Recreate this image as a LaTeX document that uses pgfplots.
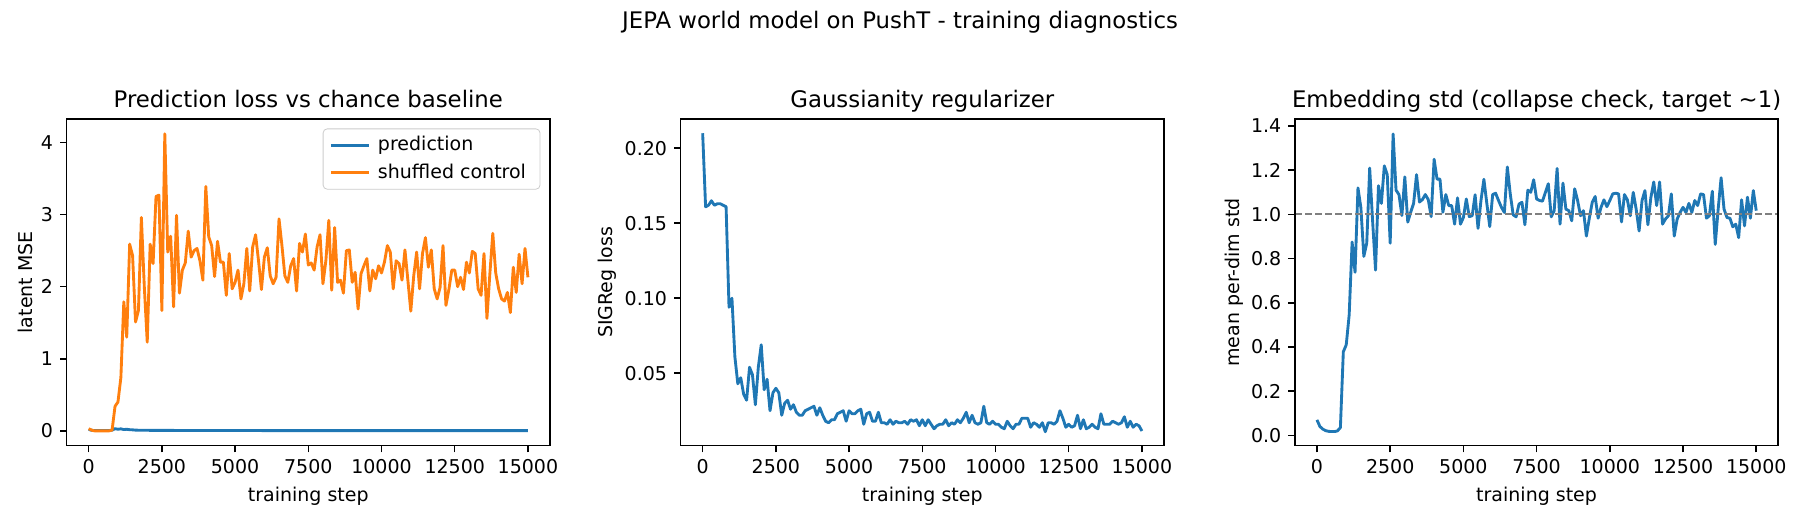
\documentclass[border=0pt]{standalone}
\usepackage{fontspec}
\setmainfont{DejaVu Sans}
\usepackage{pgfplots}
\usepackage{pgfplotstable}
\pgfplotsset{compat=1.18}

\definecolor{C0}{HTML}{1F77B4}
\definecolor{C1}{HTML}{FF7F0E}
\definecolor{refgray}{HTML}{808080}

\newcommand\tickfont{\fontsize{9.5}{11.4}\selectfont}
\newcommand\titlefont{\fontsize{11.4}{13.7}\selectfont}

% prediction loss / shuffled control
\pgfplotstableread[row sep=\\]{
step pred shuf \\
0 0.020 0.03 \\ 100 0.008 0.01 \\ 200 0.004 0.00 \\ 300 0.004 0.00 \\ 400 0.004 0.00 \\
500 0.004 0.00 \\ 600 0.004 0.00 \\ 700 0.004 0.00 \\ 800 0.010 0.01 \\ 900 0.030 0.34 \\
1000 0.022 0.40 \\ 1100 0.028 0.74 \\ 1200 0.018 1.79 \\ 1300 0.022 1.30 \\ 1400 0.016 2.59 \\
1500 0.014 2.43 \\ 1600 0.010 1.51 \\ 1700 0.009 1.67 \\ 1800 0.008 2.96 \\ 1900 0.008 2.00 \\
2000 0.008 1.23 \\ 2100 0.007 2.59 \\ 2200 0.007 2.32 \\ 2300 0.007 3.25 \\ 2400 0.006 3.27 \\
2500 0.006 1.67 \\ 2600 0.006 4.12 \\ 2700 0.006 2.48 \\ 2800 0.006 2.70 \\ 2900 0.006 1.72 \\
3000 0.005 2.99 \\ 3100 0.005 1.91 \\ 3200 0.005 2.23 \\ 3300 0.005 2.33 \\ 3400 0.005 2.77 \\
3500 0.005 2.41 \\ 3600 0.005 2.50 \\ 3700 0.005 2.53 \\ 3800 0.005 2.36 \\ 3900 0.005 2.09 \\
4000 0.005 3.39 \\ 4100 0.005 2.69 \\ 4200 0.004 2.57 \\ 4300 0.004 2.14 \\ 4400 0.004 2.63 \\
4500 0.004 2.34 \\ 4600 0.004 2.34 \\ 4700 0.004 1.88 \\ 4800 0.004 2.46 \\ 4900 0.004 1.97 \\
5000 0.004 2.06 \\ 5100 0.004 2.23 \\ 5200 0.004 1.83 \\ 5300 0.004 2.04 \\ 5400 0.004 2.53 \\
5500 0.004 1.94 \\ 5600 0.004 2.55 \\ 5700 0.004 2.72 \\ 5800 0.004 2.36 \\ 5900 0.004 1.96 \\
6000 0.003 2.41 \\ 6100 0.003 2.54 \\ 6200 0.003 2.15 \\ 6300 0.003 2.04 \\ 6400 0.003 2.13 \\
6500 0.003 2.94 \\ 6600 0.003 2.57 \\ 6700 0.003 2.15 \\ 6800 0.003 2.06 \\ 6900 0.003 2.29 \\
7000 0.003 2.39 \\ 7100 0.003 1.94 \\ 7200 0.003 2.60 \\ 7300 0.003 2.48 \\ 7400 0.003 2.73 \\
7500 0.003 2.30 \\ 7600 0.003 2.33 \\ 7700 0.003 2.23 \\ 7800 0.003 2.55 \\ 7900 0.003 2.72 \\
8000 0.003 2.04 \\ 8100 0.003 2.36 \\ 8200 0.003 2.92 \\ 8300 0.003 1.95 \\ 8400 0.003 2.82 \\
8500 0.003 2.06 \\ 8600 0.003 2.09 \\ 8700 0.003 1.91 \\ 8800 0.003 2.50 \\ 8900 0.003 2.51 \\
9000 0.003 2.06 \\ 9100 0.003 2.20 \\ 9200 0.003 1.69 \\ 9300 0.003 2.18 \\ 9400 0.003 2.29 \\
9500 0.003 2.39 \\ 9600 0.003 1.94 \\ 9700 0.003 2.23 \\ 9800 0.003 2.11 \\ 9900 0.003 2.29 \\
10000 0.003 2.19 \\ 10100 0.003 2.34 \\ 10200 0.003 2.57 \\ 10300 0.003 2.48 \\ 10400 0.003 1.97 \\
10500 0.003 2.36 \\ 10600 0.003 2.32 \\ 10700 0.003 2.09 \\ 10800 0.003 2.51 \\ 10900 0.003 2.09 \\
11000 0.003 1.66 \\ 11100 0.003 2.15 \\ 11200 0.003 2.48 \\ 11300 0.003 1.97 \\ 11400 0.003 2.46 \\
11500 0.003 2.68 \\ 11600 0.003 2.27 \\ 11700 0.003 2.51 \\ 11800 0.003 1.97 \\ 11900 0.003 1.83 \\
12000 0.003 1.99 \\ 12100 0.003 2.57 \\ 12200 0.003 1.74 \\ 12300 0.003 1.96 \\ 12400 0.003 2.23 \\
12500 0.003 2.23 \\ 12600 0.003 2.00 \\ 12700 0.003 2.13 \\ 12800 0.003 1.96 \\ 12900 0.003 2.34 \\
13000 0.003 2.19 \\ 13100 0.003 2.49 \\ 13200 0.003 2.46 \\ 13300 0.003 1.97 \\ 13400 0.003 1.88 \\
13500 0.003 2.46 \\ 13600 0.003 1.56 \\ 13700 0.003 2.18 \\ 13800 0.003 2.74 \\ 13900 0.003 2.19 \\
14000 0.003 1.97 \\ 14100 0.003 1.83 \\ 14200 0.003 1.80 \\ 14300 0.003 1.92 \\ 14400 0.003 1.64 \\
14500 0.003 2.27 \\ 14600 0.003 1.92 \\ 14700 0.003 2.45 \\ 14800 0.003 2.04 \\ 14900 0.003 2.53 \\
15000 0.003 2.13 \\
}\losstable

% SIGReg loss
\pgfplotstableread[row sep=\\]{
step sig \\
0 0.210 \\ 100 0.161 \\ 200 0.162 \\ 300 0.165 \\ 400 0.162 \\ 500 0.163 \\ 600 0.163 \\ 700 0.162 \\
800 0.161 \\ 900 0.094 \\ 1000 0.100 \\ 1100 0.061 \\ 1200 0.043 \\ 1300 0.047 \\ 1400 0.036 \\
1500 0.032 \\ 1600 0.054 \\ 1700 0.049 \\ 1800 0.029 \\ 1900 0.054 \\ 2000 0.069 \\ 2100 0.039 \\
2200 0.046 \\ 2300 0.025 \\ 2400 0.037 \\ 2500 0.040 \\ 2600 0.037 \\ 2700 0.022 \\ 2800 0.030 \\
2900 0.032 \\ 3000 0.026 \\ 3100 0.029 \\ 3200 0.024 \\ 3300 0.022 \\ 3400 0.022 \\ 3500 0.025 \\
3600 0.026 \\ 3700 0.027 \\ 3800 0.028 \\ 3900 0.022 \\ 4000 0.027 \\ 4100 0.022 \\ 4200 0.018 \\
4300 0.017 \\ 4400 0.019 \\ 4500 0.019 \\ 4600 0.023 \\ 4700 0.024 \\ 4800 0.025 \\ 4900 0.018 \\
5000 0.025 \\ 5100 0.023 \\ 5200 0.023 \\ 5300 0.025 \\ 5400 0.026 \\ 5500 0.016 \\ 5600 0.023 \\
5700 0.024 \\ 5800 0.018 \\ 5900 0.018 \\ 6000 0.024 \\ 6100 0.017 \\ 6200 0.017 \\ 6300 0.016 \\
6400 0.019 \\ 6500 0.016 \\ 6600 0.018 \\ 6700 0.017 \\ 6800 0.017 \\ 6900 0.018 \\ 7000 0.016 \\
7100 0.019 \\ 7200 0.018 \\ 7300 0.019 \\ 7400 0.015 \\ 7500 0.019 \\ 7600 0.015 \\ 7700 0.019 \\
7800 0.016 \\ 7900 0.013 \\ 8000 0.015 \\ 8100 0.016 \\ 8200 0.016 \\ 8300 0.019 \\ 8400 0.015 \\
8500 0.017 \\ 8600 0.016 \\ 8700 0.019 \\ 8800 0.017 \\ 8900 0.020 \\ 9000 0.024 \\ 9100 0.017 \\
9200 0.022 \\ 9300 0.017 \\ 9400 0.016 \\ 9500 0.017 \\ 9600 0.028 \\ 9700 0.017 \\ 9800 0.016 \\
9900 0.018 \\ 10000 0.016 \\ 10100 0.016 \\ 10200 0.014 \\ 10300 0.013 \\ 10400 0.018 \\ 10500 0.015 \\
10600 0.013 \\ 10700 0.016 \\ 10800 0.016 \\ 10900 0.020 \\ 11000 0.020 \\ 11100 0.020 \\ 11200 0.014 \\
11300 0.017 \\ 11400 0.016 \\ 11500 0.014 \\ 11600 0.017 \\ 11700 0.011 \\ 11800 0.017 \\ 11900 0.017 \\
12000 0.016 \\ 12100 0.018 \\ 12200 0.025 \\ 12300 0.020 \\ 12400 0.014 \\ 12500 0.016 \\ 12600 0.014 \\
12700 0.015 \\ 12800 0.022 \\ 12900 0.013 \\ 13000 0.019 \\ 13100 0.013 \\ 13200 0.014 \\ 13300 0.016 \\
13400 0.014 \\ 13500 0.013 \\ 13600 0.023 \\ 13700 0.016 \\ 13800 0.016 \\ 13900 0.016 \\ 14000 0.018 \\
14100 0.017 \\ 14200 0.016 \\ 14300 0.017 \\ 14400 0.021 \\ 14500 0.014 \\ 14600 0.018 \\ 14700 0.014 \\
14800 0.016 \\ 14900 0.015 \\ 15000 0.0115 \\
}\sigtable

% mean per-dim embedding std
\pgfplotstableread[row sep=\\]{
step std \\
0 0.070 \\ 100 0.040 \\ 200 0.028 \\ 300 0.021 \\ 400 0.018 \\ 500 0.017 \\ 600 0.017 \\ 700 0.020 \\
800 0.035 \\ 900 0.378 \\ 1000 0.410 \\ 1100 0.545 \\ 1200 0.875 \\ 1300 0.738 \\ 1400 1.120 \\
1500 1.030 \\ 1600 0.810 \\ 1700 0.870 \\ 1800 1.210 \\ 1900 0.970 \\ 2000 0.748 \\ 2100 1.130 \\
2200 1.050 \\ 2300 1.220 \\ 2400 1.180 \\ 2500 0.870 \\ 2600 1.364 \\ 2700 1.110 \\ 2800 1.090 \\
2900 0.995 \\ 3000 1.170 \\ 3100 0.965 \\ 3200 1.010 \\ 3300 1.050 \\ 3400 1.180 \\ 3500 1.056 \\
3600 1.067 \\ 3700 1.090 \\ 3800 1.067 \\ 3900 0.990 \\ 4000 1.250 \\ 4100 1.160 \\ 4200 1.160 \\
4300 1.010 \\ 4400 1.090 \\ 4500 1.040 \\ 4600 1.040 \\ 4700 0.956 \\ 4800 1.075 \\ 4900 0.956 \\
5000 0.986 \\ 5100 1.070 \\ 5200 0.990 \\ 5300 0.994 \\ 5400 1.089 \\ 5500 0.937 \\ 5600 1.063 \\
5700 1.159 \\ 5800 1.050 \\ 5900 0.945 \\ 6000 1.090 \\ 6100 1.096 \\ 6200 1.063 \\ 6300 1.032 \\
6400 1.009 \\ 6500 1.215 \\ 6600 1.093 \\ 6700 0.998 \\ 6800 0.989 \\ 6900 1.047 \\ 7000 1.055 \\
7100 0.953 \\ 7200 1.110 \\ 7300 1.100 \\ 7400 1.157 \\ 7500 1.070 \\ 7600 1.063 \\ 7700 1.060 \\
7800 1.100 \\ 7900 1.139 \\ 8000 0.989 \\ 8100 1.017 \\ 8200 1.208 \\ 8300 0.956 \\ 8400 1.142 \\
8500 1.024 \\ 8600 1.017 \\ 8700 0.971 \\ 8800 1.116 \\ 8900 1.063 \\ 9000 0.994 \\ 9100 1.017 \\
9200 0.902 \\ 9300 0.983 \\ 9400 1.055 \\ 9500 1.081 \\ 9600 0.983 \\ 9700 1.032 \\ 9800 1.066 \\
9900 1.035 \\ 10000 1.063 \\ 10100 1.093 \\ 10200 1.096 \\ 10300 1.093 \\ 10400 0.966 \\ 10500 1.090 \\
10600 1.066 \\ 10700 0.994 \\ 10800 1.100 \\ 10900 1.024 \\ 11000 0.925 \\ 11100 1.063 \\ 11200 1.108 \\
11300 0.953 \\ 11400 1.075 \\ 11500 1.147 \\ 11600 1.040 \\ 11700 1.147 \\ 11800 0.956 \\ 11900 0.979 \\
12000 0.994 \\ 12100 1.093 \\ 12200 0.902 \\ 12300 0.979 \\ 12400 1.009 \\ 12500 1.032 \\ 12600 1.009 \\
12700 1.050 \\ 12800 1.009 \\ 12900 1.063 \\ 13000 1.040 \\ 13100 1.093 \\ 13200 1.090 \\ 13300 0.983 \\
13400 0.994 \\ 13500 1.105 \\ 13600 0.864 \\ 13700 1.024 \\ 13800 1.166 \\ 13900 1.024 \\ 14000 0.986 \\
14100 0.983 \\ 14200 0.944 \\ 14300 0.956 \\ 14400 0.895 \\ 14500 1.066 \\ 14600 0.948 \\ 14700 1.078 \\
14800 0.983 \\ 14900 1.108 \\ 15000 1.017 \\
}\stdtable

\pgfplotsset{
  panel/.style={
    scale only axis, width=241.6pt, height=163.35pt, anchor=south west,
    axis on top,
    xmin=-750, xmax=15750, xtick={0,2500,...,15000},
    scaled ticks=false,
    /pgf/number format/1000 sep={},
    /pgf/number format/assume math mode=true,
    xtick pos=bottom, ytick pos=left,
    tick align=outside, major tick length=3.33pt,
    every tick/.style={black, line width=0.76pt},
    axis line style={line width=0.76pt},
    ticklabel style={font=\tickfont},
    xticklabel style={anchor=base, inner sep=0pt, yshift=-10.8pt},
    yticklabel style={anchor=east, inner sep=0pt, xshift=-3.33pt},
    every axis x label/.style={at={(axis description cs:0.5,0)}, anchor=base,
      yshift=-27.65pt, font=\tickfont},
    every axis y label/.style={at={(ticklabel cs:0.5)}, rotate=90,
      anchor=near ticklabel, inner sep=3.8pt, font=\tickfont},
    every axis title/.style={at={(0.5,1)}, anchor=base, yshift=5.7pt,
      inner sep=0pt, font=\titlefont},
    every axis plot/.append style={line width=1.43pt, line join=round},
    xlabel={training step},
  },
}

\begin{document}
\begin{tikzpicture}
\useasboundingbox (0,0) rectangle (900pt,260pt);

\node[anchor=base, font=\titlefont] at (450pt,245.6pt)
  {JEPA world model on PushT - training diagnostics};

\begin{axis}[panel, at={(33.35pt,37.15pt)},
  title={Prediction loss vs chance baseline},
  ylabel={latent MSE},
  ymin=-0.206, ymax=4.326, ytick={0,1,2,3,4},
  legend cell align=left,
  legend image code/.code={\draw[#1] (0pt,0pt) -- (19pt,0pt);},
  legend style={at={(1,1)}, anchor=north east, xshift=-4.75pt, yshift=-4.75pt,
    draw=black!20, rounded corners=2pt, fill=white, fill opacity=0.8,
    text opacity=1, font=\tickfont, inner xsep=3.2pt, inner ysep=2.6pt,
    row sep=2.7pt, nodes={inner xsep=3.8pt, inner ysep=1.2pt}},
]
\addplot[C0] table[x=step, y=pred] {\losstable};
\addlegendentry{prediction}
\addplot[C1] table[x=step, y=shuf] {\losstable};
\addlegendentry{shuffled control}
\end{axis}

\begin{axis}[panel, at={(340.35pt,37.15pt)},
  title={Gaussianity regularizer},
  ylabel={SIGReg loss},
  ymin=0.0017, ymax=0.2195, ytick={0.05,0.10,0.15,0.20},
  yticklabel style={/pgf/number format/.cd, fixed, fixed zerofill, precision=2},
]
\addplot[C0] table[x=step, y=sig] {\sigtable};
\end{axis}

\begin{axis}[panel, at={(647.5pt,37.15pt)},
  title={Embedding std (collapse check, target \textasciitilde 1)},
  ylabel={mean per-dim std},
  ymin=-0.047, ymax=1.432, ytick={0,0.2,...,1.4},
  yticklabel style={/pgf/number format/.cd, fixed, fixed zerofill, precision=1},
]
\addplot[C0] table[x=step, y=std] {\stdtable};
\addplot[refgray, line width=0.95pt, dash pattern=on 3.5pt off 1.5pt]
  coordinates {(-750,1) (15750,1)};
\end{axis}
\end{tikzpicture}
\end{document}
